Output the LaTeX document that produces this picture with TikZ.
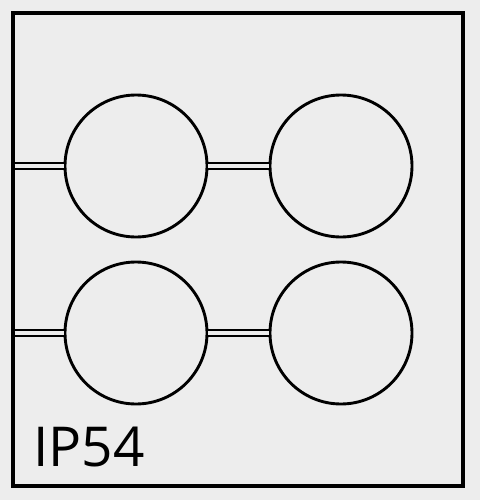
\documentclass[tikz,border=0pt]{standalone}
\usepackage{fontspec}
\setmainfont{Open Sans}
\begin{document}
\begin{tikzpicture}[x=1pt,y=-1pt,
  hole/.style={circle,draw,line width=2.9pt,minimum size=142pt,inner sep=0pt},
  wire/.style={draw,line width=2.5pt,double=black!7,double distance=3.4pt}]
\fill[black!7] (0,0) rectangle (480,500);
\useasboundingbox (0,0) rectangle (480,500);
\draw[line width=3.2pt] (13,13) rectangle (463,486);
\node[hole] (a) at (136,166) {};
\node[hole] (b) at (341,166) {};
\node[hole] (c) at (136,333) {};
\node[hole] (d) at (341,333) {};
\coordinate (la) at (14.5,166);
\coordinate (lc) at (14.5,333);
\draw[wire] (la) -- (a.west);
\draw[wire] (a.east) -- (b.west);
\draw[wire] (lc) -- (c.west);
\draw[wire] (c.east) -- (d.west);
\node[anchor=base west,inner sep=0pt,font=\fontsize{55}{62}\selectfont] (t) at (33,466) {IP54};
\end{tikzpicture}
\end{document}
